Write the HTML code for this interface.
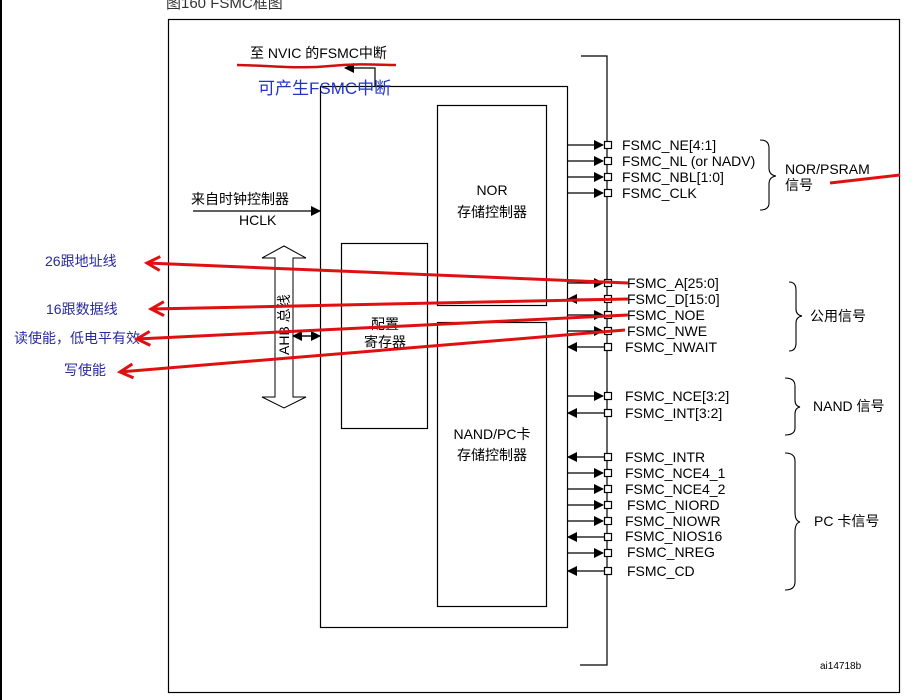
<!DOCTYPE html>
<html><head><meta charset="utf-8"><style>
body{margin:0;background:#fff;}
svg{display:block;font-family:"Liberation Sans","Noto Sans CJK SC",sans-serif;}
</style></head><body>
<svg width="920" height="700" viewBox="0 0 920 700" xmlns="http://www.w3.org/2000/svg">
<defs>
<marker id="ah" markerWidth="10" markerHeight="10" refX="9" refY="5" orient="auto" markerUnits="userSpaceOnUse"><path d="M0,0 L10,5 L0,10 z" fill="#000"/></marker>
<marker id="ra" markerWidth="18" markerHeight="18" refX="15" refY="8" orient="auto" markerUnits="userSpaceOnUse"><path d="M2,1 L15,8 L2,15" fill="none" stroke="#e01010" stroke-width="3"/></marker>
</defs>
<rect width="920" height="700" fill="#fff"/>
<line x1="1" y1="0" x2="1" y2="700" stroke="#000" stroke-width="2"/>
<text x="166" y="8" font-size="15" fill="#333">图160    FSMC框图</text>
<rect x="168.5" y="19.5" width="731" height="673" fill="none" stroke="#000" stroke-width="1.2"/>
<polyline points="581,56 607,56 607,665 580,665" fill="none" stroke="#000" stroke-width="1.2"/>
<rect x="320.5" y="86.5" width="247" height="541" fill="none" stroke="#000" stroke-width="1.2"/>
<rect x="437.5" y="105.5" width="109" height="200" fill="none" stroke="#000" stroke-width="1.2"/>
<rect x="341.5" y="243.5" width="86" height="185" fill="none" stroke="#000" stroke-width="1.2"/>
<rect x="437.5" y="322.5" width="109" height="284" fill="none" stroke="#000" stroke-width="1.2"/>
<text x="492" y="195" font-size="14" text-anchor="middle">NOR</text>
<text x="492" y="217" font-size="14" text-anchor="middle">存储控制器</text>
<text x="385" y="329" font-size="14" text-anchor="middle">配置</text>
<text x="385" y="347" font-size="14" text-anchor="middle">寄存器</text>
<text x="492" y="439" font-size="14" text-anchor="middle">NAND/PC卡</text>
<text x="492" y="460" font-size="14" text-anchor="middle">存储控制器</text>
<polyline points="375,86 375,68 345,68" fill="none" stroke="#000" stroke-width="1.2" marker-end="url(#ah)"/>
<text x="250" y="58" font-size="14">至 NVIC 的FSMC中断</text>
<path d="M237,65 C280,66 300,69 330,66 C360,63 380,65 396,65" stroke="#d01010" stroke-width="2.5" fill="none"/>
<text x="258" y="94" font-size="17" fill="#2233cc">可产生FSMC中断</text>
<line x1="193" y1="211" x2="320" y2="211" stroke="#000" stroke-width="1.2" marker-end="url(#ah)"/>
<text x="191" y="204" font-size="14">来自时钟控制器</text>
<text x="239" y="225" font-size="14">HCLK</text>
<path d="M284,246 L306,258 L293,258 L293,397 L306,397 L284,408 L262,397 L275,397 L275,258 L262,258 Z" fill="#fff" stroke="#000" stroke-width="1"/>
<text transform="translate(289,355) rotate(-90)" font-size="14">AHB 总线</text>
<line x1="300" y1="336" x2="320" y2="336" stroke="#000" stroke-width="1.2" marker-end="url(#ah)"/>
<line x1="314" y1="336" x2="293" y2="336" stroke="#000" stroke-width="1.2" marker-end="url(#ah)"/>
<g stroke="#000" stroke-width="1.2" fill="#fff">
<line x1="567" y1="145" x2="603" y2="145" marker-end="url(#ah)"/>
<line x1="567" y1="161" x2="603" y2="161" marker-end="url(#ah)"/>
<line x1="567" y1="177" x2="603" y2="177" marker-end="url(#ah)"/>
<line x1="567" y1="193" x2="603" y2="193" marker-end="url(#ah)"/>
<line x1="567" y1="283" x2="603" y2="283" marker-end="url(#ah)"/>
<line x1="604" y1="299" x2="568" y2="299" marker-end="url(#ah)"/>
<line x1="567" y1="315" x2="603" y2="315" marker-end="url(#ah)"/>
<line x1="567" y1="331" x2="603" y2="331" marker-end="url(#ah)"/>
<line x1="604" y1="347" x2="568" y2="347" marker-end="url(#ah)"/>
<line x1="567" y1="396" x2="603" y2="396" marker-end="url(#ah)"/>
<line x1="604" y1="413" x2="568" y2="413" marker-end="url(#ah)"/>
<line x1="604" y1="457" x2="568" y2="457" marker-end="url(#ah)"/>
<line x1="567" y1="473" x2="603" y2="473" marker-end="url(#ah)"/>
<line x1="567" y1="489" x2="603" y2="489" marker-end="url(#ah)"/>
<line x1="567" y1="505" x2="603" y2="505" marker-end="url(#ah)"/>
<line x1="567" y1="521" x2="603" y2="521" marker-end="url(#ah)"/>
<line x1="604" y1="537" x2="568" y2="537" marker-end="url(#ah)"/>
<line x1="567" y1="553" x2="603" y2="553" marker-end="url(#ah)"/>
<line x1="604" y1="571" x2="568" y2="571" marker-end="url(#ah)"/>
<rect x="604.5" y="141.5" width="7" height="7"/><rect x="604.5" y="157.5" width="7" height="7"/>
<rect x="604.5" y="173.5" width="7" height="7"/><rect x="604.5" y="189.5" width="7" height="7"/>
<rect x="604.5" y="279.5" width="7" height="7"/><rect x="604.5" y="295.5" width="7" height="7"/>
<rect x="604.5" y="311.5" width="7" height="7"/><rect x="604.5" y="327.5" width="7" height="7"/>
<rect x="604.5" y="343.5" width="7" height="7"/><rect x="604.5" y="392.5" width="7" height="7"/>
<rect x="604.5" y="409.5" width="7" height="7"/><rect x="604.5" y="453.5" width="7" height="7"/>
<rect x="604.5" y="469.5" width="7" height="7"/><rect x="604.5" y="485.5" width="7" height="7"/>
<rect x="604.5" y="501.5" width="7" height="7"/><rect x="604.5" y="517.5" width="7" height="7"/>
<rect x="604.5" y="533.5" width="7" height="7"/><rect x="604.5" y="549.5" width="7" height="7"/>
<rect x="604.5" y="567.5" width="7" height="7"/>
</g>
<g font-size="14">
<text x="622" y="150">FSMC_NE[4:1]</text>
<text x="622" y="166">FSMC_NL (or NADV)</text>
<text x="622" y="182">FSMC_NBL[1:0]</text>
<text x="622" y="198">FSMC_CLK</text>
<text x="627" y="288">FSMC_A[25:0]</text>
<text x="627" y="304">FSMC_D[15:0]</text>
<text x="627" y="320">FSMC_NOE</text>
<text x="627" y="336">FSMC_NWE</text>
<text x="625" y="352">FSMC_NWAIT</text>
<text x="625" y="401">FSMC_NCE[3:2]</text>
<text x="625" y="418">FSMC_INT[3:2]</text>
<text x="625" y="462">FSMC_INTR</text>
<text x="625" y="478">FSMC_NCE4_1</text>
<text x="625" y="494">FSMC_NCE4_2</text>
<text x="627" y="510">FSMC_NIORD</text>
<text x="625" y="526">FSMC_NIOWR</text>
<text x="625" y="541">FSMC_NIOS16</text>
<text x="627" y="557">FSMC_NREG</text>
<text x="627" y="576">FSMC_CD</text>
<text x="785" y="174">NOR/PSRAM</text>
<text x="785" y="190">信号</text>
<text x="810" y="321">公用信号</text>
<text x="813" y="411">NAND 信号</text>
<text x="814" y="526">PC 卡信号</text>
<text x="820" y="669" font-size="10">ai14718b</text>
</g>
<g fill="none" stroke="#000" stroke-width="1.1">
<path d="M760,140 Q769,140 769,148 L769,168 Q769,175 776,176 Q769,177 769,184 L769,203 Q769,210 760,210"/>
<path d="M789,282 Q796,282 796,290 L796,309 Q796,315 802,316 Q796,317 796,323 L796,343 Q796,351 789,351"/>
<path d="M785,378 Q795,378 795,386 L795,400 Q795,406 800,407 Q795,408 795,414 L795,428 Q795,435 785,435"/>
<path d="M785,453 Q795,453 795,461 L795,512 Q795,521 800,522 Q795,523 795,532 L795,582 Q795,590 785,590"/>
</g>
<g font-size="14" fill="#2a2aa0">
<text x="45" y="266">26跟地址线</text>
<text x="46" y="314">16跟数据线</text>
<text x="14" y="343">读使能，低电平有效</text>
<text x="64" y="375">写使能</text>
</g>
<g stroke="#e01010" stroke-width="3" fill="none">
<line x1="628" y1="283" x2="147" y2="263" marker-end="url(#ra)"/>
<line x1="628" y1="299" x2="151" y2="309" marker-end="url(#ra)"/>
<line x1="628" y1="315" x2="137" y2="339" marker-end="url(#ra)"/>
<line x1="625" y1="330" x2="120" y2="372" marker-end="url(#ra)"/>
<line x1="830" y1="183" x2="900" y2="175"/>
</g>
</svg>
</body></html>
